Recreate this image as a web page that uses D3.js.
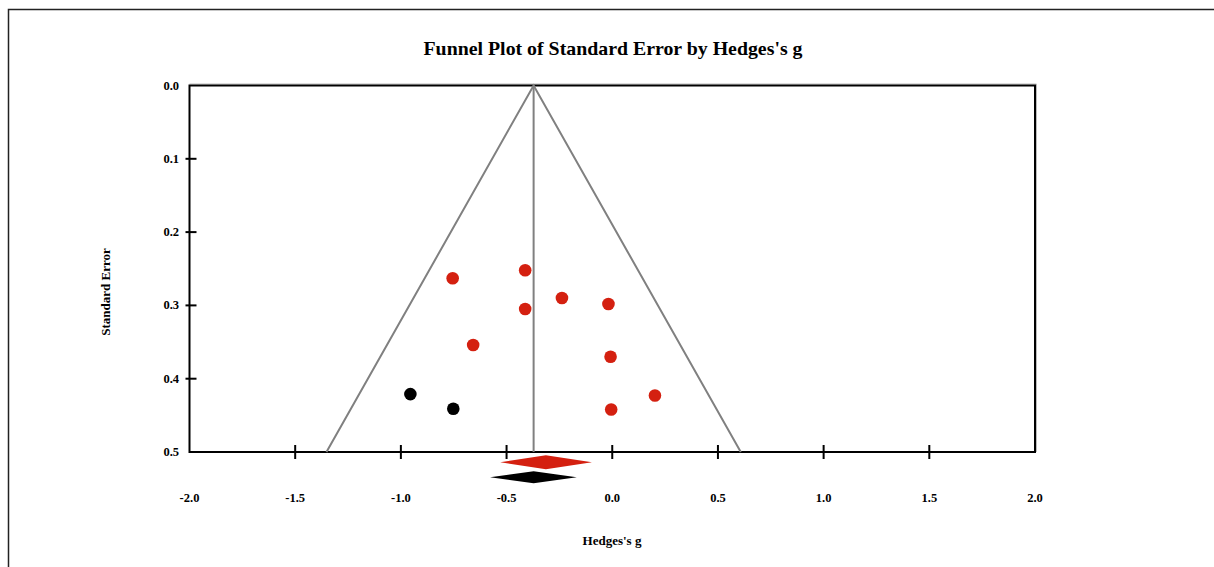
<!DOCTYPE html>
<html>
<head>
<meta charset="utf-8">
<script src="https://cdn.jsdelivr.net/npm/d3@7"></script>
<style>
  body { margin: 0; background: #fff; }
  text { font-family: "Liberation Serif", "Times New Roman", serif; font-weight: bold; }
</style>
</head>
<body>
<svg id="chart" width="1214" height="567"></svg>
<script>
// observed studies (red) and imputed studies (black)
var observedG  = [-0.755, -0.412, -0.412, -0.238, -0.018, -0.658, -0.008, 0.202, -0.005];
var observedSE = [0.263, 0.252, 0.305, 0.290, 0.298, 0.354, 0.370, 0.423, 0.442];
var imputedG   = [-0.955, -0.752];
var imputedSE  = [0.421, 0.441];

// summary diamonds: [lower, point, upper]
var observedSummary = [-0.530, -0.314, -0.096];
var adjustedSummary = [-0.578, -0.372, -0.168];

var xTicks = [-2.0, -1.5, -1.0, -0.5, 0.0, 0.5, 1.0, 1.5, 2.0];
var yTicks = [0.0, 0.1, 0.2, 0.3, 0.4, 0.5];

var svg = d3.select("#chart");

var x = d3.scaleLinear().domain([-2, 2]).range([189.5, 1035]);
var y = d3.scaleLinear().domain([0, 0.5]).range([85.5, 452]);

// outer frame
svg.append("path")
  .attr("d", "M8.5,567 L8.5,9.5 L1214,9.5")
  .attr("fill", "none")
  .attr("stroke", "#222")
  .attr("stroke-width", 1.5);

// title
svg.append("text")
  .attr("x", 613).attr("y", 55)
  .attr("text-anchor", "middle")
  .attr("font-size", "19px")
  .attr("textLength", 379)
  .attr("lengthAdjust", "spacingAndGlyphs")
  .text("Funnel Plot of Standard Error by Hedges's g");

// plot box shadow + box
svg.append("path")
  .attr("d", "M" + (x(-2)) + "," + (y(0) - 1.5) + " L" + (x(2) + 1.5) + "," + (y(0) - 1.5) + " L" + (x(2) + 1.5) + "," + y(0.5))
  .attr("fill", "none").attr("stroke", "#bbb").attr("stroke-width", 1);

svg.append("rect")
  .attr("x", x(-2)).attr("y", y(0))
  .attr("width", x(2) - x(-2)).attr("height", y(0.5) - y(0))
  .attr("fill", "none")
  .attr("stroke", "#000")
  .attr("stroke-width", 2);

// x ticks
svg.append("g").selectAll("line")
  .data(xTicks.filter(function(d) { return d > -2 && d < 2; }))
  .enter().append("line")
  .attr("x1", function(d) { return x(d); })
  .attr("x2", function(d) { return x(d); })
  .attr("y1", y(0.5) - 7).attr("y2", y(0.5) + 7)
  .attr("stroke", "#000").attr("stroke-width", 2);

svg.append("g").selectAll("text")
  .data(xTicks)
  .enter().append("text")
  .attr("x", function(d) { return x(d); })
  .attr("y", 502)
  .attr("text-anchor", "middle")
  .attr("font-size", "12.5px")
  .text(function(d) { return d.toFixed(1); });

// y ticks
svg.append("g").selectAll("line")
  .data(yTicks.filter(function(d) { return d > 0 && d < 0.5; }))
  .enter().append("line")
  .attr("x1", x(-2) - 4).attr("x2", x(-2) + 7)
  .attr("y1", function(d) { return y(d); })
  .attr("y2", function(d) { return y(d); })
  .attr("stroke", "#000").attr("stroke-width", 2);

svg.append("g").selectAll("text")
  .data(yTicks)
  .enter().append("text")
  .attr("x", 179)
  .attr("y", function(d) { return y(d) + 4; })
  .attr("text-anchor", "end")
  .attr("font-size", "12.5px")
  .text(function(d) { return d.toFixed(1); });

// axis titles
svg.append("text")
  .attr("x", 612).attr("y", 545)
  .attr("text-anchor", "middle")
  .attr("font-size", "13px")
  .text("Hedges's g");

svg.append("text")
  .attr("transform", "translate(110,292) rotate(-90)")
  .attr("text-anchor", "middle")
  .attr("font-size", "13px")
  .text("Standard Error");

// funnel
var mean = adjustedSummary[1];
var funnel = svg.append("g").attr("stroke", "#808080").attr("stroke-width", 2).attr("fill", "none");
funnel.append("line")
  .attr("x1", x(mean)).attr("x2", x(mean))
  .attr("y1", y(0)).attr("y2", y(0.5));
funnel.append("path")
  .attr("d", d3.line()([
    [x(mean - 1.96 * 0.5), y(0.5)],
    [x(mean), y(0)],
    [x(mean + 1.96 * 0.5), y(0.5)]
  ]));

// points
svg.append("g").selectAll("circle")
  .data(d3.range(observedG.length))
  .enter().append("circle")
  .attr("cx", function(i) { return x(observedG[i]); })
  .attr("cy", function(i) { return y(observedSE[i]); })
  .attr("r", 6.3)
  .attr("fill", "#d42010");

svg.append("g").selectAll("circle")
  .data(d3.range(imputedG.length))
  .enter().append("circle")
  .attr("cx", function(i) { return x(imputedG[i]); })
  .attr("cy", function(i) { return y(imputedSE[i]); })
  .attr("r", 6.3)
  .attr("fill", "#000");

// diamonds
function diamond(s, cy, h, color) {
  svg.append("path")
    .attr("d", d3.line()([
      [x(s[0]), cy], [x(s[1]), cy - h / 2], [x(s[2]), cy], [x(s[1]), cy + h / 2]
    ]) + "Z")
    .attr("fill", color);
}
diamond(observedSummary, 462.3, 14, "#d42010");
diamond(adjustedSummary, 477.3, 12, "#000");
</script>
</body>
</html>
